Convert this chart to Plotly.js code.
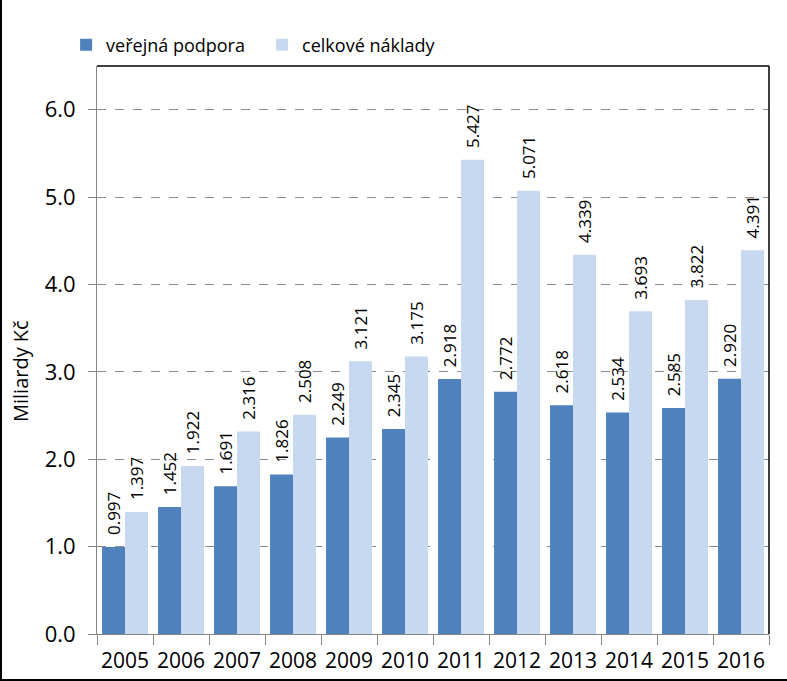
<!DOCTYPE html>
<html><head><meta charset="utf-8">
<script src="https://cdn.plot.ly/plotly-3.0.1.min.js"></script>
<style>
html,body{margin:0;padding:0;background:#fff;}
#frame{position:relative;width:787px;height:681px;box-sizing:border-box;border-left:2px solid #000;border-bottom:2px solid #000;}
#chart{position:absolute;left:-2px;top:0;width:787px;height:681px;}
</style>
</head><body>
<div id="frame"><div id="chart"></div></div>
<script>
const years = ['2005','2006','2007','2008','2009','2010','2011','2012','2013','2014','2015','2016'];
const verejnaPodpora = [0.997,1.452,1.691,1.826,2.249,2.345,2.918,2.772,2.618,2.534,2.585,2.920];
const celkoveNaklady = [1.397,1.922,2.316,2.508,3.121,3.175,5.427,5.071,4.339,3.693,3.822,4.391];
const yTicks = [0,1,2,3,4,5,6];
const yTickLabels = ['0.0','1.0','2.0','3.0','4.0','5.0','6.0'];

const font = 'Open Sans, Noto Sans, sans-serif';
const labelFont = {family: font, size: 17, color: '#000'};
const pad = '\u00a0\u00a0';

const traces = [
  {type:'bar', name:'veřejná podpora', x:years, y:verejnaPodpora,
   marker:{color:'#4F81BD'}, text:verejnaPodpora.map(v=>pad+v.toFixed(3)),
   textposition:'outside', textangle:-90, textfont:labelFont, cliponaxis:false, constraintext:'none'},
  {type:'bar', name:'celkové náklady', x:years, y:celkoveNaklady,
   marker:{color:'#C6D9F1'}, text:celkoveNaklady.map(v=>pad+v.toFixed(3)),
   textposition:'outside', textangle:-90, textfont:labelFont, cliponaxis:false, constraintext:'none'}
];

const layout = {
  width:787, height:681,
  margin:{l:97, r:18, t:66, b:47},
  paper_bgcolor:'rgba(0,0,0,0)', plot_bgcolor:'#fff',
  barmode:'group', bargap:0.18, bargroupgap:0,
  font:{family:font, size:18, color:'#000'},
  showlegend:true,
  legend:{orientation:'h', x:-0.046, y:1.037, xanchor:'left', yanchor:'middle',
          font:{family:font, size:18, color:'#000'}, itemwidth:30, traceorder:'normal',
          entrywidth:151, entrywidthmode:'pixels'},
  xaxis:{type:'category', showline:true, linecolor:'#868686', linewidth:1,
         ticks:'outside', ticklen:10, tickcolor:'#868686', tickson:'boundaries', tickangle:0,
         ticklabelstandoff:8,
         tickfont:{family:font, size:21, color:'#000'}, showgrid:false, fixedrange:true},
  yaxis:{range:[0,6.5], tickvals:yTicks, ticktext:yTickLabels, showline:true,
         linecolor:'#868686', linewidth:1, ticks:'outside', ticklen:8, tickcolor:'#868686',
         ticklabelstandoff:8,
         showgrid:true, gridcolor:'#8c8c8c', griddash:'dash', gridwidth:1, zeroline:false,
         tickfont:{family:font, size:22, color:'#000'}},
  annotations:[
    {text:'Miliardy Kč', xref:'paper', yref:'paper', x:-(97-20)/672, y:(634-371)/568,
     xanchor:'center', yanchor:'middle', textangle:-90, showarrow:false,
     font:{family:font, size:20, color:'#000'}}
  ],
  shapes:[
    {type:'line', xref:'paper', yref:'paper', x0:0, x1:1, y0:1, y1:1, line:{color:'#000', width:1.5}},
    {type:'line', xref:'paper', yref:'paper', x0:1, x1:1, y0:0, y1:1, line:{color:'#000', width:1.5}}
  ]
};
Plotly.newPlot('chart', traces, layout, {displayModeBar:false, staticPlot:true});
</script>
</body></html>
